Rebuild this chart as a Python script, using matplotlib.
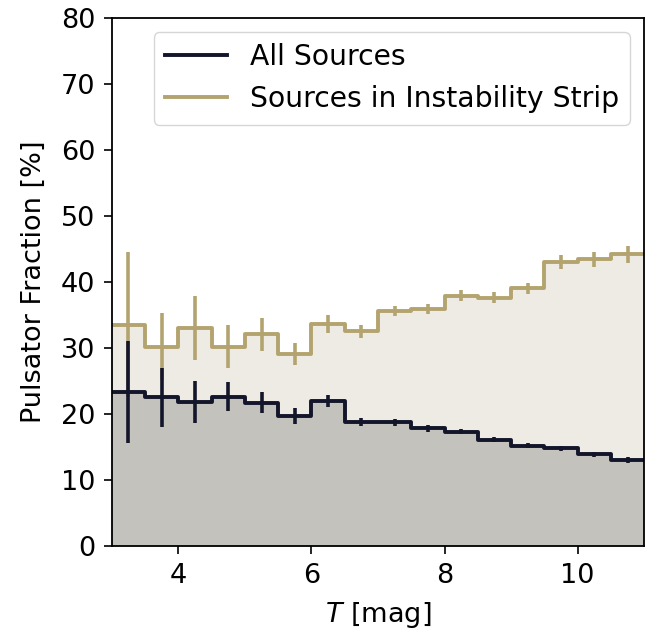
import numpy as np
import matplotlib
matplotlib.use("Agg")
import matplotlib.pyplot as plt

# bin edges in T magnitude
bin_edges = [3.0, 3.5, 4.0, 4.5, 5.0, 5.5, 6.0, 6.5, 7.0, 7.5, 8.0, 8.5, 9.0, 9.5, 10.0, 10.5, 11.0]

all_frac = [23.3, 22.5, 21.8, 22.6, 21.7, 19.7, 22.0, 18.8, 18.7, 17.8, 17.3, 16.1, 15.2, 14.8, 13.9, 13.0]
all_err = [7.7, 4.5, 3.2, 2.2, 1.6, 1.2, 0.9, 0.6, 0.5, 0.5, 0.4, 0.4, 0.4, 0.4, 0.4, 0.4]

strip_frac = [33.5, 30.2, 33.0, 30.2, 32.1, 29.1, 33.6, 32.5, 35.6, 35.9, 37.9, 37.6, 39.0, 43.0, 43.4, 44.2]
strip_err = [11.0, 5.1, 4.8, 3.2, 2.5, 1.7, 1.4, 1.0, 0.8, 0.8, 0.8, 0.8, 0.9, 1.0, 1.1, 1.3]

col_all = "#13152a"
col_strip = "#b3a46f"
fill_all = "#c4c2bd"
fill_strip = "#edebe4"

edges = np.array(bin_edges)
centers = 0.5 * (edges[:-1] + edges[1:])

fig = plt.figure(figsize=(6.5, 6.37), dpi=100)
ax = fig.add_axes([0.172, 0.143, 0.819, 0.829])

ys = np.append(strip_frac, strip_frac[-1])
ya = np.append(all_frac, all_frac[-1])

ax.fill_between(edges, 0, ys, step="post", color=fill_strip, lw=0, zorder=1)
ax.fill_between(edges, 0, ya, step="post", color=fill_all, lw=0, zorder=2)

ax.step(edges, ys, where="post", color=col_strip, lw=2.8, zorder=3,
        label="Sources in Instability Strip")
ax.errorbar(centers, strip_frac, yerr=strip_err, fmt="none", ecolor=col_strip,
            elinewidth=2.6, capsize=0, zorder=3)

ax.step(edges, ya, where="post", color=col_all, lw=2.8, zorder=4,
        label="All Sources")
ax.errorbar(centers, all_frac, yerr=all_err, fmt="none", ecolor=col_all,
            elinewidth=2.6, capsize=0, zorder=4)

ax.set_xlim(3, 11)
ax.set_ylim(0, 80)
ax.set_xticks([4, 6, 8, 10])
ax.set_yticks(np.arange(0, 81, 10))
ax.tick_params(labelsize=19.5, length=6, width=1.2, pad=6)
for s in ax.spines.values():
    s.set_linewidth(1.3)
    s.set_zorder(6)

ax.set_xlabel(r"$T$ [mag]", fontsize=19.5, labelpad=8)
ax.set_ylabel("Pulsator Fraction [%]", fontsize=19.5, labelpad=10)

h, l = ax.get_legend_handles_labels()
ax.legend(h[::-1], l[::-1], loc="upper right", fontsize=20.3, frameon=True,
          handlelength=2.2)

fig.savefig("out.png", dpi=100)
